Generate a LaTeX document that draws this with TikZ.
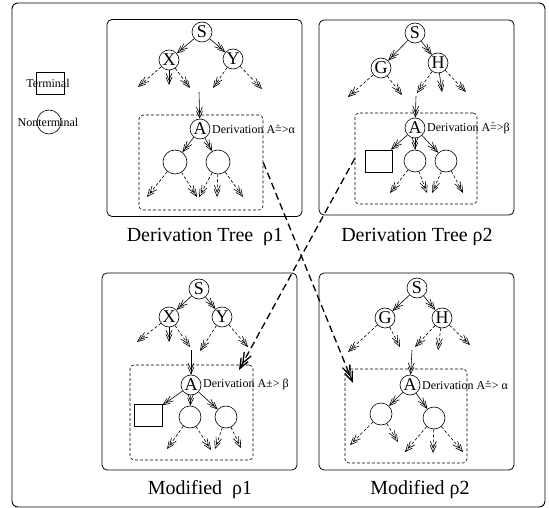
\documentclass[tikz,border=0pt]{standalone}
\usepackage{fontspec}
\setmainfont{Liberation Serif}
\usetikzlibrary{arrows.meta,positioning}
\newcommand{\plusderiv}{\rlap{\raisebox{1.05ex}{\hspace{0.08em}\scriptsize +}}=>}

\begin{document}
\begin{tikzpicture}[x=1pt, y=-1pt]
    % Styles
    \tikzstyle{frame} = [draw, line width=0.9pt, rounded corners=6pt]
    \tikzstyle{panel} = [draw, line width=0.8pt, rounded corners=5pt, minimum width=195pt, minimum height=197pt]
    \tikzstyle{dbox} = [draw, line width=0.6pt, dash pattern=on 3pt off 2pt, rounded corners=4pt]
    \tikzstyle{ntnode} = [draw, circle, line width=0.6pt, inner sep=0pt, minimum size=20pt, font=\fontsize{18}{18}\selectfont]
    \tikzstyle{kid} = [draw, circle, line width=0.6pt, inner sep=0pt, minimum size=23pt]
    \tikzstyle{tnode} = [draw, rectangle, line width=0.6pt, inner sep=0pt, minimum width=28pt, minimum height=22pt]
    \tikzstyle{caption} = [font=\fontsize{20}{22}\selectfont]
    \tikzstyle{legtext} = [font=\fontsize{12}{12}\selectfont, inner sep=0pt]
    \tikzstyle{deriv} = [font=\fontsize{12}{12}\selectfont, anchor=west, inner sep=0pt]
    \tikzstyle{arr} = [line width=0.6pt, -{Straight Barb[length=7pt,width=6pt,sep=-4pt]Straight Barb[length=7pt,width=6pt]}]
    \tikzstyle{darr} = [arr, dash pattern=on 3pt off 2pt]
    \tikzstyle{xarr} = [line width=1.3pt, dash pattern=on 7pt off 4pt, -{Straight Barb[length=10pt,width=8pt,sep=-6pt]Straight Barb[length=10pt,width=8pt]}]

    \useasboundingbox (0,0) rectangle (549,508);
    \draw[frame] (12,3) rectangle (545,507);

    % Legend
    \node[tnode] (legT) at (50,83) {};
    \node[legtext] (legTtxt) at (48,83) {Terminal};
    \node[kid, minimum size=24pt] (legN) at (49,122) {};
    \node[legtext] (legNtxt) at (48,122) {Nonterminal};

    % Derivation Tree rho1
    \node[panel] (p1) at (204.5,118) {};
    \node[dbox, minimum width=124pt, minimum height=95pt] (db1) at (201,162.5) {};
    \node[ntnode] (s1) at (202,32) {S};
    \node[ntnode] (x1) at (169,60) {X};
    \node[ntnode] (y1) at (233,59) {Y};
    \node[ntnode] (a1) at (200,129) {A};
    \node[deriv] (d1) at (212,129) {Derivation A\plusderiv α};
    \node[kid, minimum size=24pt] (c1a) at (175,162) {};
    \node[kid, minimum size=24pt] (c1b) at (218,162) {};
    \node[caption] (cap1) at (205,237) {Derivation Tree \ ρ1};
    \coordinate (x1l) at (138,87);
    \coordinate (x1m) at (169,85);
    \coordinate (x1r) at (190,88);
    \coordinate (y1l) at (213,88);
    \coordinate (y1r) at (262,89);
    \coordinate (t1) at (199,92);
    \coordinate (c1al) at (147,197);
    \coordinate (c1ar) at (197,197);
    \coordinate (c1bl) at (199,197);
    \coordinate (c1bm) at (217,197);
    \coordinate (c1br) at (243,197);
    \draw[arr] (s1) -- (x1);
    \draw[arr] (s1) -- (y1);
    \draw[darr] (x1) -- (x1l);
    \draw[arr] (x1) -- (x1m);
    \draw[darr] (x1) -- (x1r);
    \draw[darr] (y1) -- (y1l);
    \draw[darr] (y1) -- (y1r);
    \draw[arr] (t1) -- (a1);
    \draw[arr] (a1) -- (c1a);
    \draw[arr] (a1) -- (c1b);
    \draw[darr] (c1a) -- (c1al);
    \draw[darr] (c1a) -- (c1ar);
    \draw[darr] (c1b) -- (c1bl);
    \draw[darr] (c1b) -- (c1bm);
    \draw[darr] (c1b) -- (c1br);

    % Derivation Tree rho2
    \node[panel, minimum height=195pt] (p2) at (416.5,117.5) {};
    \node[dbox, minimum width=122pt, minimum height=91pt] (db2) at (416,158.5) {};
    \node[ntnode] (s2) at (415,33) {S};
    \node[ntnode] (g2) at (381,68) {G};
    \node[ntnode] (h2) at (438,63) {H};
    \node[ntnode] (a2) at (415,128) {A};
    \node[deriv] (d2) at (427,128) {Derivation A\plusderiv β};
    \node[tnode, minimum width=27pt] (sq2) at (378.5,161) {};
    \node[kid, minimum size=22pt] (c2a) at (415,161) {};
    \node[kid, minimum size=22pt] (c2b) at (446,161) {};
    \node[caption] (cap2) at (417,237) {Derivation Tree ρ2};
    \coordinate (g2l) at (348,97);
    \coordinate (g2r) at (402,95);
    \coordinate (h2l) at (417,93);
    \coordinate (h2m) at (442,92);
    \coordinate (h2r) at (466,92);
    \coordinate (t2) at (416,96);
    \coordinate (c2al) at (390,193);
    \coordinate (c2ar) at (427,193);
    \coordinate (c2bl) at (432,193);
    \coordinate (c2br) at (463,193);
    \draw[arr] (s2) -- (g2);
    \draw[arr] (s2) -- (h2);
    \draw[darr] (g2) -- (g2l);
    \draw[darr] (g2) -- (g2r);
    \draw[darr] (h2) -- (h2l);
    \draw[arr] (h2) -- (h2m);
    \draw[darr] (h2) -- (h2r);
    \draw[arr] (t2) -- (a2);
    \draw[arr] (a2) -- (sq2);
    \draw[arr] (a2) -- (c2a);
    \draw[arr] (a2) -- (c2b);
    \draw[darr] (c2a) -- (c2al);
    \draw[darr] (c2a) -- (c2ar);
    \draw[darr] (c2b) -- (c2bl);
    \draw[darr] (c2b) -- (c2br);

    % Modified rho1
    \node[panel] (p3) at (199.5,371.5) {};
    \node[dbox, minimum width=123pt, minimum height=95pt] (db3) at (191.5,412.5) {};
    \node[ntnode] (s3) at (199,289) {S};
    \node[ntnode] (x3) at (169,317) {X};
    \node[ntnode] (y3) at (222,317) {Y};
    \node[ntnode] (a3) at (191,385) {A};
    \node[deriv] (d3) at (203,385) {Derivation A±> β};
    \node[tnode] (sq3) at (148,415.5) {};
    \node[kid, minimum size=22pt] (c3a) at (190,417) {};
    \node[kid, minimum size=22pt] (c3b) at (226,417) {};
    \node[caption] (cap3) at (200,490) {Modified \ ρ1};
    \coordinate (x3l) at (137,342);
    \coordinate (x3m) at (169,342);
    \coordinate (x3r) at (190,347);
    \coordinate (y3l) at (200,351);
    \coordinate (y3r) at (248,347);
    \coordinate (t3) at (191,350);
    \coordinate (c3al) at (167,449);
    \coordinate (c3ar) at (211,450);
    \coordinate (c3bl) at (215,449);
    \coordinate (c3br) at (241,448);
    \draw[arr] (s3) -- (x3);
    \draw[arr] (s3) -- (y3);
    \draw[darr] (x3) -- (x3l);
    \draw[arr] (x3) -- (x3m);
    \draw[darr] (x3) -- (x3r);
    \draw[darr] (y3) -- (y3l);
    \draw[darr] (y3) -- (y3r);
    \draw[arr] (t3) -- (a3);
    \draw[arr] (a3) -- (sq3);
    \draw[arr] (a3) -- (c3a);
    \draw[arr] (a3) -- (c3b);
    \draw[darr] (c3a) -- (c3al);
    \draw[darr] (c3a) -- (c3ar);
    \draw[darr] (c3b) -- (c3bl);
    \draw[darr] (c3b) -- (c3br);

    % Modified rho2
    \node[panel] (p4) at (416.5,371.5) {};
    \node[dbox, minimum width=122pt, minimum height=94pt] (db4) at (406,416) {};
    \node[ntnode] (s4) at (417,288) {S};
    \node[ntnode] (g4) at (385,318) {G};
    \node[ntnode] (h4) at (442,318) {H};
    \node[ntnode] (a4) at (410,385) {A};
    \node[deriv] (d4) at (422,385) {Derivation A\plusderiv\ α};
    \node[kid, minimum size=22pt] (c4a) at (381,414) {};
    \node[kid, minimum size=22pt] (c4b) at (434,418) {};
    \node[caption] (cap4) at (420,490) {Modified ρ2};
    \coordinate (g4l) at (348,352);
    \coordinate (g4r) at (400,347);
    \coordinate (h4l) at (415,347);
    \coordinate (h4m) at (438,350);
    \coordinate (h4r) at (470,345);
    \coordinate (t4) at (412,350);
    \coordinate (c4al) at (350,445);
    \coordinate (c4ar) at (398,442);
    \coordinate (c4bl) at (405,452);
    \coordinate (c4bm) at (433,453);
    \coordinate (c4br) at (463,452);
    \draw[arr] (s4) -- (g4);
    \draw[arr] (s4) -- (h4);
    \draw[darr] (g4) -- (g4l);
    \draw[darr] (g4) -- (g4r);
    \draw[darr] (h4) -- (h4l);
    \draw[darr] (h4) -- (h4m);
    \draw[darr] (h4) -- (h4r);
    \draw[arr] (t4) -- (a4);
    \draw[arr] (a4) -- (c4a);
    \draw[arr] (a4) -- (c4b);
    \draw[darr] (c4a) -- (c4al);
    \draw[darr] (c4a) -- (c4ar);
    \draw[darr] (c4b) -- (c4bl);
    \draw[darr] (c4b) -- (c4bm);
    \draw[darr] (c4b) -- (c4br);

    % Cross-over arrows
    \coordinate (hit4) at (353,383);
    \coordinate (hit3) at (239,370);
    \draw[xarr] (db1.east) -- (hit4);
    \draw[xarr] (db2.west) -- (hit3);
\end{tikzpicture}
\end{document}
